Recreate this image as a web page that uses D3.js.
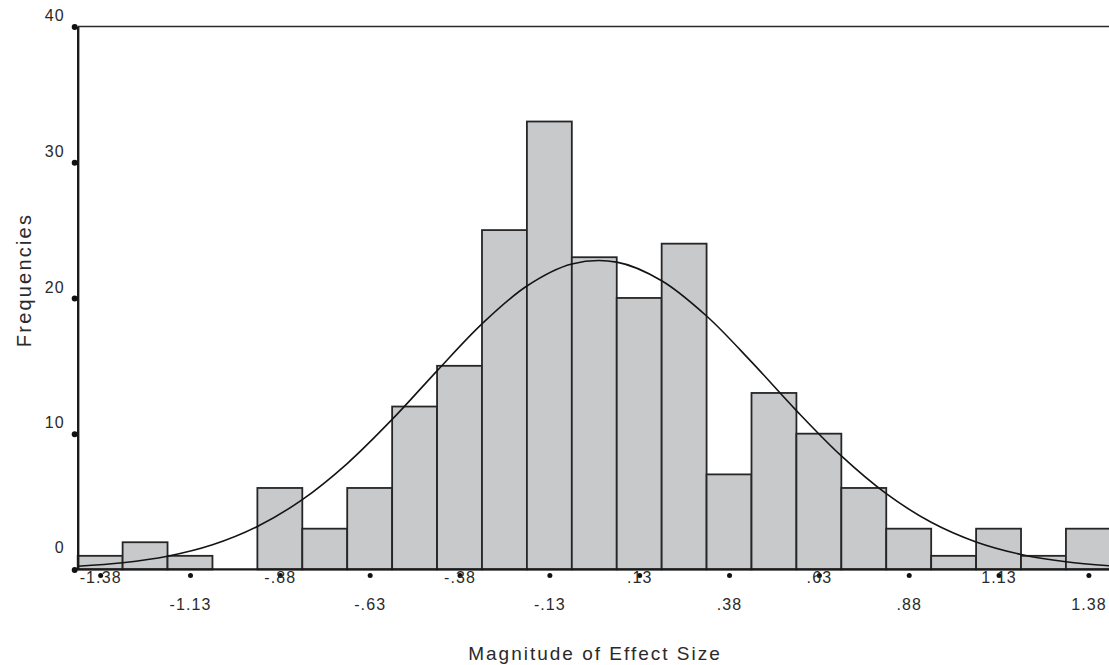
<!DOCTYPE html>
<meta charset="utf-8">
<style>
body { margin: 0; background: #fff; }
svg { display: block; }
text { font-family: "Liberation Sans", Arial, sans-serif; fill: #2a2a2a; }
.tick text { font-size: 16px; letter-spacing: 1.1px; }
.bar { fill: #c8c9cb; stroke: #262626; stroke-width: 1.8px; }
.curve { fill: none; stroke: #141414; stroke-width: 1.6px; }
</style>
<svg width="1109" height="665"></svg>
<script src="https://d3js.org/d3.v7.min.js"></script>
<script>

// histogram bins (lower edge of each bin, width .125)
var binStarts = [-1.4375, -1.3125, -1.1875, -1.0625, -0.9375, -0.8125, -0.6875, -0.5625,
                 -0.4375, -0.3125, -0.1875, -0.0625, 0.0625, 0.1875, 0.3125, 0.4375,
                 0.5625, 0.6875, 0.8125, 0.9375, 1.0625, 1.1875, 1.3125];
var counts = [1, 2, 1, 0, 6, 3, 6, 12, 15, 25, 33, 23, 20, 24, 7, 13, 10, 6, 3, 1, 3, 1, 3];
var binWidth = 0.125;

// normal curve
var curveX = [-1.4375, -1.3125, -1.1875, -1.0625, -0.9375, -0.8125, -0.6875, -0.5625,
              -0.4375, -0.3125, -0.1875, -0.0625, 0.0625, 0.1875, 0.3125, 0.4375,
              0.5625, 0.6875, 0.8125, 0.9375, 1.0625, 1.1875, 1.3125, 1.4375];
var curveY = [0.23, 0.49, 0.97, 1.81, 3.16, 5.14, 7.8, 11.05, 14.63, 18.09, 20.88, 22.5,
              22.64, 21.27, 18.67, 15.29, 11.7, 8.36, 5.58, 3.47, 2.02, 1.1, 0.56, 0.26];

var xTickValues = [-1.375, -1.125, -0.875, -0.625, -0.375, -0.125, 0.125, 0.375, 0.625, 0.875, 1.125, 1.375];
var xTickLabels = ["-1.38", "-1.13", "-.88", "-.63", "-.38", "-.13", ".13", ".38", ".63", ".88", "1.13", "1.38"];
var yTickValues = [0, 10, 20, 30, 40];

var svg = d3.select("svg"),
    plotLeft = 77.7,
    plotBottom = 569.4,
    plotTop = 26.5,
    barPx = 44.92;

var x = d3.scaleLinear()
    .domain([-1.4375, 1.4375])
    .range([plotLeft, plotLeft + 23 * barPx]);

var y = d3.scaleLinear()
    .domain([0, 40])
    .range([plotBottom, plotTop]);

// bars
svg.append("g")
  .selectAll("rect")
  .data(counts)
  .enter().append("rect")
    .attr("class", "bar")
    .attr("x", function(d, i) { return x(binStarts[i]); })
    .attr("width", function(d, i) { return x(binStarts[i] + binWidth) - x(binStarts[i]); })
    .attr("y", function(d) { return y(d); })
    .attr("height", function(d) { return y(0) - y(d); })
    .style("display", function(d) { return d > 0 ? null : "none"; });

// normal curve
var line = d3.line()
    .x(function(d) { return x(d[0]); })
    .y(function(d) { return y(d[1]); })
    .curve(d3.curveCatmullRom);

svg.append("path")
    .attr("class", "curve")
    .attr("d", line(d3.zip(curveX, curveY)));

// top frame line
svg.append("line")
    .attr("x1", plotLeft).attr("x2", 1109)
    .attr("y1", plotTop).attr("y2", plotTop)
    .attr("stroke", "#2a2a2a")
    .attr("stroke-width", 1.5);

// y axis
var yAxis = svg.append("g")
    .attr("transform", "translate(" + plotLeft + ",0)")
    .call(d3.axisLeft(y).tickValues(yTickValues).tickSize(0).tickPadding(13));

yAxis.select(".domain").attr("stroke", "#1a1a1a").attr("stroke-width", 2.4);
yAxis.selectAll(".tick text")
    .attr("dy", function(d) { return d === 0 ? "-1.05em" : "-0.37em"; });
yAxis.selectAll(".tick").append("circle")
    .attr("cx", -3).attr("cy", 0).attr("r", 3)
    .attr("fill", "#111");

// x axis
var xAxis = svg.append("g")
    .attr("transform", "translate(0," + plotBottom + ")")
    .call(d3.axisBottom(x).tickValues(xTickValues).tickSize(0)
      .tickFormat(function(d, i) { return xTickLabels[i]; }));

xAxis.select(".domain")
    .attr("d", "M" + plotLeft + ",0H1109")
    .attr("stroke", "#1a1a1a").attr("stroke-width", 2.4);
xAxis.selectAll(".tick").insert("circle", "text")
    .attr("cx", 0).attr("cy", 6).attr("r", 2.5)
    .attr("fill", "#111");
xAxis.selectAll(".tick text")
    .attr("y", function(d, i) { return i % 2 === 0 ? 8 : 35; })
    .attr("dy", "0.35em");

// axis titles
svg.append("text")
    .attr("x", 595)
    .attr("y", 660)
    .attr("text-anchor", "middle")
    .style("font-size", "19px")
    .style("letter-spacing", "2px")
    .text("Magnitude of Effect Size");

svg.append("text")
    .attr("transform", "translate(30.5,280) rotate(-90)")
    .attr("text-anchor", "middle")
    .style("font-size", "20px")
    .style("letter-spacing", "2.2px")
    .text("Frequencies");

</script>
